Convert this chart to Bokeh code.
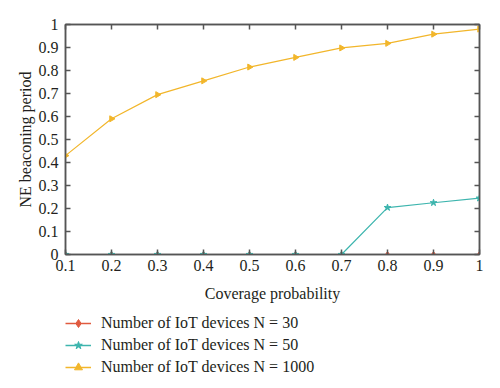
import math
from bokeh.plotting import figure
from bokeh.layouts import column
from bokeh.models import (Range1d, FixedTicker, LinearAxis, Legend, LegendItem)
from bokeh.embed import file_html
from bokeh.resources import INLINE

coverage = [0.1, 0.2, 0.3, 0.4, 0.5, 0.6, 0.7, 0.8, 0.9, 1.0]
n30 = [0, 0, 0, 0, 0, 0, 0, 0, 0, 0]
n50 = [0, 0, 0, 0, 0, 0, 0, 0.204, 0.225, 0.245]
n1000 = [0.43, 0.59, 0.695, 0.755, 0.815, 0.857, 0.898, 0.918, 0.958, 0.98]

x_ticks = [0.1, 0.2, 0.3, 0.4, 0.5, 0.6, 0.7, 0.8, 0.9, 1.0]
x_labels = ["0.1", "0.2", "0.3", "0.4", "0.5", "0.6", "0.7", "0.8", "0.9", "1"]
y_ticks = [0, 0.1, 0.2, 0.3, 0.4, 0.5, 0.6, 0.7, 0.8, 0.9, 1.0]
y_labels = ["0", "0.1", "0.2", "0.3", "0.4", "0.5", "0.6", "0.7", "0.8", "0.9", "1"]

labels = ["Number of IoT devices N = 30", "Number of IoT devices N = 50",
          "Number of IoT devices N = 1000"]
colors = ["#e05a3f", "#3db5ae", "#f2b62b"]

FONT = "Liberation Serif"
AXC = "#555555"
TXT = "#231f20"

p = figure(width=492, height=304, output_backend="svg", toolbar_location=None,
           x_range=Range1d(0.1, 1.0), y_range=Range1d(0, 1.0),
           min_border_left=65, min_border_right=13, min_border_top=24,
           min_border_bottom=0)
p.grid.visible = False
p.outline_line_color = AXC
p.outline_line_width = 1.5

xa = p.xaxis[0]
ya = p.yaxis[0]
xa.ticker = FixedTicker(ticks=x_ticks)
ya.ticker = FixedTicker(ticks=y_ticks)
xa.major_label_overrides = {t: l for t, l in zip(x_ticks, x_labels)}
ya.major_label_overrides = {t: l for t, l in zip(y_ticks, y_labels)}
xa.axis_label = "Coverage probability"
ya.axis_label = "NE beaconing period"
for ax in (xa, ya):
    ax.major_tick_in = 5
    ax.major_tick_out = 0
    ax.minor_tick_line_color = None
    ax.axis_line_color = AXC
    ax.axis_line_width = 1.5
    ax.major_tick_line_color = AXC
    ax.major_tick_line_width = 1.5
    ax.major_label_text_font = FONT
    ax.major_label_text_font_size = "16px"
    ax.major_label_text_color = TXT
    ax.axis_label_text_font = FONT
    ax.axis_label_text_font_size = "16px"
    ax.axis_label_text_font_style = "normal"
    ax.axis_label_text_color = TXT
xa.major_label_standoff = 5
xa.axis_label_standoff = 11
ya.major_label_standoff = 7
ya.axis_label_standoff = 2

# mirrored ticks (no labels)
for side, ticks in (("right", y_ticks), ("above", x_ticks)):
    ax = LinearAxis(ticker=FixedTicker(ticks=ticks),
                    major_label_overrides={t: "" for t in ticks},
                    major_label_text_color=None,
                    major_tick_in=5, major_tick_out=0, minor_tick_line_color=None,
                    axis_line_color=AXC, axis_line_width=1.5,
                    major_tick_line_color=AXC, major_tick_line_width=1.5,
                    major_label_standoff=0)
    p.add_layout(ax, side)

series = [n30, n50, n1000]
markers = ["diamond", "star", "triangle"]
angles = [0, 0, -math.pi / 2]
sizes = [6, 7, 6]

# legend panel below the plot (its frame is aligned with the plot's frame)
q = figure(width=492, height=84, output_backend="svg", toolbar_location=None,
           x_range=Range1d(0, 1), y_range=Range1d(0, 1),
           min_border_left=0, min_border_right=0, min_border_top=0,
           min_border_bottom=0)
q.axis.visible = False
q.grid.visible = False
q.outline_line_color = None

items = []
for ys, c, m, a, s, lab in zip(series, colors, markers, angles, sizes, labels):
    p.line(coverage, ys, line_color=c, line_width=1.2)
    p.scatter(coverage, ys, marker=m, size=s, angle=a, fill_color=c,
              line_color=c, line_width=1)
    # off-range copies that only feed the legend
    ln = q.line([5, 6], [5, 6], line_color=c, line_width=1.5)
    sc = q.scatter([5.5], [5.5], marker=m, size=s, angle=a, fill_color=c,
                   line_color=c, line_width=1)
    items.append(LegendItem(label=lab, renderers=[ln, sc]))

legend = Legend(items=items, location=(0, 11), orientation="vertical",
                border_line_color=None, background_fill_alpha=0,
                label_text_font=FONT, label_text_font_size="16px",
                label_text_color=TXT, glyph_width=26, glyph_height=20,
                label_height=20, label_standoff=10, spacing=2, padding=0,
                margin=0)
q.add_layout(legend, "center")

open("out.html", "w").write(file_html(column(p, q, spacing=0), INLINE))
